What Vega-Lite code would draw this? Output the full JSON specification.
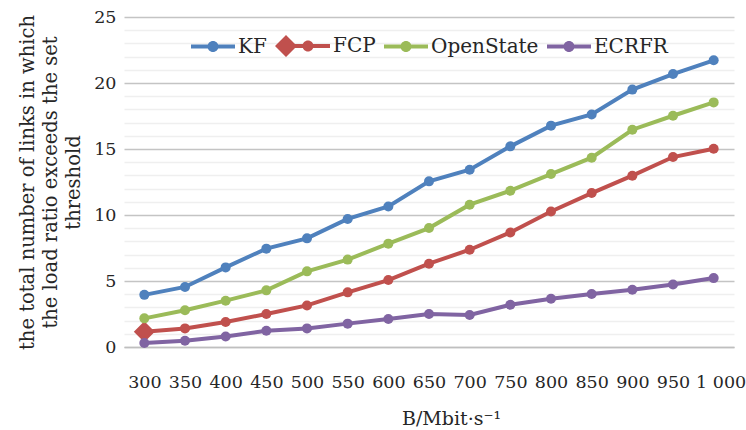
{
  "$schema": "https://vega.github.io/schema/vega-lite/v6.json",
  "width": 610,
  "height": 330,
  "autosize": "none",
  "padding": {"left": 124, "top": 17, "right": 12, "bottom": 83},
  "background": "white",
  "config": {
    "view": {"stroke": null},
    "font": "DejaVu Serif",
    "axis": {"labelFont": "DejaVu Serif", "titleFont": "DejaVu Serif", "labelColor": "#262626", "titleColor": "#262626", "titleFontWeight": "normal"},
    "legend": {"labelFont": "DejaVu Serif", "labelColor": "#262626"}
  },
  "data": {"values": [
    {"B": 300, "series": "KF", "value": 3.95},
    {"B": 350, "series": "KF", "value": 4.55},
    {"B": 400, "series": "KF", "value": 6.03},
    {"B": 450, "series": "KF", "value": 7.45},
    {"B": 500, "series": "KF", "value": 8.23},
    {"B": 550, "series": "KF", "value": 9.7},
    {"B": 600, "series": "KF", "value": 10.65},
    {"B": 650, "series": "KF", "value": 12.55},
    {"B": 700, "series": "KF", "value": 13.43},
    {"B": 750, "series": "KF", "value": 15.2},
    {"B": 800, "series": "KF", "value": 16.77},
    {"B": 850, "series": "KF", "value": 17.62},
    {"B": 900, "series": "KF", "value": 19.5},
    {"B": 950, "series": "KF", "value": 20.68},
    {"B": 1000, "series": "KF", "value": 21.72},
    {"B": 300, "series": "FCP", "value": 1.16},
    {"B": 350, "series": "FCP", "value": 1.41},
    {"B": 400, "series": "FCP", "value": 1.89},
    {"B": 450, "series": "FCP", "value": 2.5},
    {"B": 500, "series": "FCP", "value": 3.15},
    {"B": 550, "series": "FCP", "value": 4.14},
    {"B": 600, "series": "FCP", "value": 5.07},
    {"B": 650, "series": "FCP", "value": 6.31},
    {"B": 700, "series": "FCP", "value": 7.37},
    {"B": 750, "series": "FCP", "value": 8.68},
    {"B": 800, "series": "FCP", "value": 10.27},
    {"B": 850, "series": "FCP", "value": 11.66},
    {"B": 900, "series": "FCP", "value": 12.98},
    {"B": 950, "series": "FCP", "value": 14.39},
    {"B": 1000, "series": "FCP", "value": 15.02},
    {"B": 300, "series": "OpenState", "value": 2.17},
    {"B": 350, "series": "OpenState", "value": 2.78},
    {"B": 400, "series": "OpenState", "value": 3.51},
    {"B": 450, "series": "OpenState", "value": 4.29},
    {"B": 500, "series": "OpenState", "value": 5.73},
    {"B": 550, "series": "OpenState", "value": 6.62},
    {"B": 600, "series": "OpenState", "value": 7.83},
    {"B": 650, "series": "OpenState", "value": 9.01},
    {"B": 700, "series": "OpenState", "value": 10.78},
    {"B": 750, "series": "OpenState", "value": 11.84},
    {"B": 800, "series": "OpenState", "value": 13.1},
    {"B": 850, "series": "OpenState", "value": 14.34},
    {"B": 900, "series": "OpenState", "value": 16.46},
    {"B": 950, "series": "OpenState", "value": 17.52},
    {"B": 1000, "series": "OpenState", "value": 18.53},
    {"B": 300, "series": "ECRFR", "value": 0.3},
    {"B": 350, "series": "ECRFR", "value": 0.48},
    {"B": 400, "series": "ECRFR", "value": 0.8},
    {"B": 450, "series": "ECRFR", "value": 1.23},
    {"B": 500, "series": "ECRFR", "value": 1.41},
    {"B": 550, "series": "ECRFR", "value": 1.77},
    {"B": 600, "series": "ECRFR", "value": 2.12},
    {"B": 650, "series": "ECRFR", "value": 2.5},
    {"B": 700, "series": "ECRFR", "value": 2.42},
    {"B": 750, "series": "ECRFR", "value": 3.2},
    {"B": 800, "series": "ECRFR", "value": 3.66},
    {"B": 850, "series": "ECRFR", "value": 4.01},
    {"B": 900, "series": "ECRFR", "value": 4.34},
    {"B": 950, "series": "ECRFR", "value": 4.74},
    {"B": 1000, "series": "ECRFR", "value": 5.22}
  ]},
  "encoding": {
    "x": {
      "field": "B", "type": "ordinal",
      "scale": {"type": "point", "padding": 0.5},
      "axis": {
        "title": "B/Mbit·s⁻¹",
        "labelAngle": 0,
        "labelFontSize": 17.5,
        "labelPadding": 26,
        "labelExpr": "datum.value == 1000 ? '1 000' : datum.label",
        "labelOffset": {"condition": {"test": "datum.value == 1000", "value": 7}, "value": 0},
        "ticks": false,
        "grid": false,
        "domainColor": "#bfbfbf",
        "domainWidth": 1.5,
        "titleFontSize": 19,
        "titlePadding": 19,
        "titleX": 327
      }
    },
    "y": {
      "field": "value", "type": "quantitative",
      "scale": {"domain": [0, 25], "nice": false, "zero": true},
      "axis": {
        "title": ["the total number of links in which", "the load ratio exceeds the set", "threshold"],
        "titleFontSize": 19.5,
        "titleLineHeight": 23,
        "titlePadding": 10,
        "values": [0,1,2,3,4,5,6,7,8,9,10,11,12,13,14,15,16,17,18,19,20,21,22,23,24,25],
        "labelExpr": "datum.value % 5 === 0 ? datum.label : ''",
        "labelFontSize": 17.5,
        "labelPadding": 8,
        "ticks": false,
        "domain": false,
        "grid": true,
        "gridColor": {"condition": {"test": "datum.value % 5 === 0", "value": "#c4c4c4"}, "value": "#efefef"},
        "gridWidth": 1.5
      }
    }
  },
  "layer": [
    {
      "transform": [{"filter": "false"}],
      "mark": {"type": "point", "filled": true, "opacity": 1, "size": 1936},
      "encoding": {
        "color": {"field": "series", "type": "nominal",
          "scale": {"domain": ["KF", "FCP", "OpenState", "ECRFR"], "range": ["#4f81bd", "#c0504d", "#9bbb59", "#8064a2"]},
          "legend": {
            "title": null,
            "orient": "none",
            "direction": "horizontal",
            "legendX": 67,
            "legendY": 7,
            "labelFontSize": 20,
            "symbolSize": 1936,
            "symbolStrokeWidth": 0,
            "symbolOpacity": 1,
            "labelOffset": 3,
            "columnPadding": 8,
            "padding": 0
          }},
        "shape": {"field": "series", "type": "nominal",
          "scale": {"domain": ["KF", "FCP", "OpenState", "ECRFR"],
            "range": [
              "M-1,-0.09H1V0.09H-1ZM0.25,0A0.25,0.25,0,1,1,-0.25,0A0.25,0.25,0,1,1,0.25,0Z",
              "M-1,-0.09H1V0.09H-1ZM0.25,0A0.25,0.25,0,1,1,-0.25,0A0.25,0.25,0,1,1,0.25,0ZM-1.5,0L-1,-0.5L-0.5,0L-1,0.5Z",
              "M-1,-0.09H1V0.09H-1ZM0.25,0A0.25,0.25,0,1,1,-0.25,0A0.25,0.25,0,1,1,0.25,0Z",
              "M-1,-0.09H1V0.09H-1ZM0.25,0A0.25,0.25,0,1,1,-0.25,0A0.25,0.25,0,1,1,0.25,0Z"
            ]},
          "legend": {"title": null}
        }
      }
    },
    {
      "mark": {"type": "line", "strokeWidth": 4},
      "encoding": {
        "color": {"field": "series", "type": "nominal", "legend": null}
      }
    },
    {
      "transform": [{"filter": "datum.series === 'FCP' && datum.B === 300"}],
      "mark": {"type": "point", "filled": true, "opacity": 1, "size": 441, "shape": "diamond", "color": "#c0504d"}
    },
    {
      "mark": {"type": "point", "filled": true, "opacity": 1, "size": 100, "shape": "circle"},
      "encoding": {
        "color": {"field": "series", "type": "nominal", "legend": null}
      }
    }
  ]
}
